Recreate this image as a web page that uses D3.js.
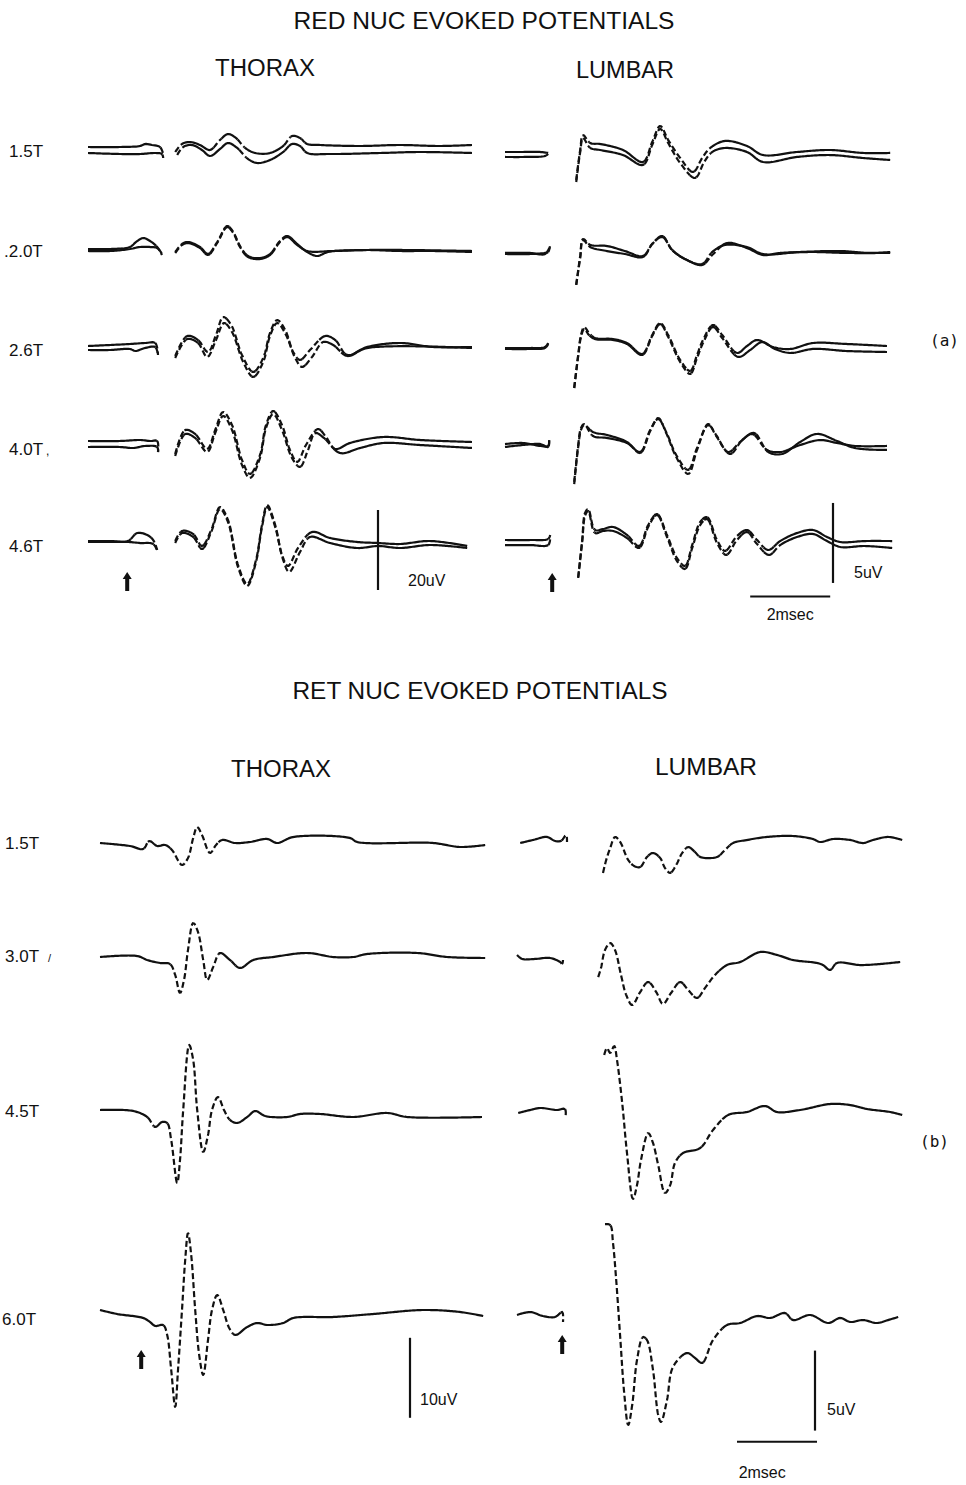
<!DOCTYPE html>
<html>
<head>
<meta charset="utf-8">
<title>Red nuc and ret nuc evoked potentials</title>
<script src="https://d3js.org/d3.v7.min.js"></script>
<style>
  body { margin: 0; background: #fff; }
  svg text { font-family: "Liberation Sans", Arial, sans-serif; fill: #111; }
  .tag { font-family: "DejaVu Sans Mono", monospace; }
</style>
</head>
<body>
<div id="chart"></div>
<script>
// ---- data: [time in msec, potential in uV] ----
// RED NUC, thorax (two superimposed sweeps per stimulus strength)
var redThx15_1pre = [[0,0.75],[0.8,0.75],[1.3,1],[1.43,1.5],[1.6,1.25],[1.8,0.75],[1.88,-1]];
var redThx15_2pre = [[0,-0.75],[0.8,-1],[1.3,-1],[1.68,-0.75],[1.85,-1],[1.88,-2]];
var redThx15_1 = [[2.18,-0.5],[2.35,1.5],[2.55,2],[2.8,1.25],[3.05,0],[3.3,2.5],[3.5,4],[3.7,3],[3.93,0.5],[4.18,-0.75],[4.55,-0.75],[4.88,1],[5.1,3.5],[5.3,3],[5.48,1.5],[5.8,1.25],[6.8,1],[7.8,1.25],[8.8,1],[9.6,1.25]];
var redThx15_2 = [[2.23,-1.25],[2.38,0.75],[2.6,1.25],[2.85,0],[3.05,-1.5],[3.3,0.25],[3.5,1.75],[3.73,0.5],[4.0,-2.25],[4.23,-3.25],[4.55,-2.5],[4.88,-0.5],[5.1,1.5],[5.3,1],[5.48,-0.75],[6.05,-1],[7.3,-0.75],[8.3,-0.5],[9.6,-0.75]];

var redThx20_1pre = [[0,0.25],[0.55,0.25],[1.05,0.75],[1.2,2],[1.38,3],[1.55,2.25],[1.73,0.75],[1.85,-1.25]];
var redThx20_2pre = [[0,-0.25],[0.55,-0.25],[1.05,0.25],[1.3,0.75],[1.55,0.75],[1.73,0.5],[1.85,-1]];
var redThx20_1 = [[2.18,-0.75],[2.35,1.25],[2.5,1.75],[2.8,0.5],[3.0,-1.25],[3.23,1.75],[3.48,5.75],[3.63,4.25],[3.8,0.75],[4.0,-1.75],[4.3,-2.25],[4.55,-1.25],[4.8,2],[4.98,3.25],[5.23,1.25],[5.48,-0.25],[6.13,-0.25],[6.98,0],[7.8,-0.25],[8.63,-0.25],[9.6,-0.5]];
var redThx20_2 = [[2.18,-0.5],[2.35,1.5],[2.5,2],[2.8,0.75],[3.0,-1],[3.23,2],[3.48,6],[3.63,4.5],[3.8,1],[4.0,-1.5],[4.3,-2],[4.55,-1],[4.8,2.25],[4.98,3.5],[5.23,1.5],[5.48,-0.5],[5.73,-1.5],[6.0,-0.5],[6.98,0],[9.6,-0.25]];

var redThx26_1pre = [[0,0.5],[0.55,0.75],[1.05,1],[1.43,1.25],[1.68,1.25],[1.75,-1.75]];
var redThx26_2pre = [[0,-0.5],[0.55,-0.5],[1.05,-0.25],[1.18,-0.75],[1.43,0],[1.68,0.25],[1.75,-1.75]];
var redThx26_1 = [[2.18,-2],[2.48,3],[2.75,2],[3.0,-1],[3.2,3.25],[3.38,7.75],[3.58,5.75],[3.85,-1.75],[4.13,-6],[4.38,-2.5],[4.55,3.75],[4.73,7],[4.93,4.5],[5.13,-1],[5.3,-3],[5.55,-0.5],[5.93,3],[6.18,2],[6.48,-1.75],[6.98,0.25],[7.8,1.25],[8.63,0.25],[9.6,0.25]];
var redThx26_2 = [[2.18,-2.5],[2.48,2.25],[2.75,1.25],[2.98,-2.25],[3.2,2],[3.4,6.25],[3.6,4],[3.88,-3.5],[4.13,-7.25],[4.38,-3.5],[4.55,3],[4.73,6.25],[4.95,3.25],[5.18,-2.5],[5.35,-4.75],[5.6,-2.25],[5.88,1.5],[6.13,0.75],[6.48,-2],[6.98,0],[9.6,0]];

var redThx40_1pre = [[0,1],[0.8,1],[1.3,1.25],[1.55,1],[1.73,1],[1.75,-1.75]];
var redThx40_2pre = [[0,-0.5],[0.8,-0.5],[1.13,-0.75],[1.43,-0.25],[1.73,-0.5],[1.75,-2]];
var redThx40_1 = [[2.18,-2.25],[2.43,3.75],[2.68,2.75],[2.98,-1],[3.18,3.75],[3.38,8.25],[3.6,5],[3.85,-3.75],[4.05,-7.25],[4.3,-2.5],[4.45,5],[4.63,8.5],[4.85,5],[5.05,-1.25],[5.23,-4.25],[5.45,0],[5.75,4],[5.95,2],[6.18,-1],[6.55,0.5],[7.38,2],[8.3,1.25],[9.6,0.75]];
var redThx40_2 = [[2.18,-2.75],[2.43,2.75],[2.68,1.75],[2.98,-1.75],[3.18,3],[3.38,7.25],[3.6,3.75],[3.85,-5],[4.05,-8.25],[4.3,-3.25],[4.45,4.25],[4.63,7.75],[4.85,3.75],[5.1,-3.25],[5.3,-5.5],[5.5,-1.25],[5.68,3],[5.9,1.75],[6.3,-2],[6.8,-0.75],[7.38,0.5],[8.3,0],[9.6,-0.75]];

var redThx46_1pre = [[0,0.5],[0.55,0.5],[1.0,0.5],[1.23,2.5],[1.48,2],[1.63,0.75],[1.73,-1.75]];
var redThx46_2pre = [[0,0.25],[0.55,0.25],[1.0,0.25],[1.3,0],[1.63,-0.25],[1.73,-2]];
var redThx46_1 = [[2.18,0.5],[2.35,3],[2.63,2.25],[2.85,-0.75],[3.08,3.25],[3.3,9],[3.5,5.75],[3.75,-5.5],[3.98,-10.25],[4.2,-4.25],[4.35,4.5],[4.48,9.5],[4.68,4.5],[4.85,-3],[5.0,-5.75],[5.25,-1.25],[5.6,2.75],[6.05,1.25],[6.73,0.25],[7.25,0],[7.8,-0.25],[8.55,0.5],[9.48,-0.75]];
var redThx46_2 = [[2.18,0],[2.35,2.5],[2.63,1.5],[2.85,-1.5],[3.08,2.75],[3.3,8.5],[3.5,5.25],[3.75,-6],[3.98,-10.75],[4.2,-4.75],[4.35,4],[4.48,9],[4.68,4],[4.88,-4.25],[5.03,-7.25],[5.3,-2.25],[5.55,1.5],[6.05,0],[6.73,-1.25],[7.25,-0.75],[7.8,-1.25],[8.55,-0.5],[9.48,-1.25]];

// RED NUC, lumbar
var redLmb15_1pre = [[0,0],[0.38,0],[0.88,0],[1.08,-0.06]];
var redLmb15_2pre = [[0,-0.31],[0.5,-0.31],[1.0,-0.25],[1.08,-0.125]];
var redLmb15_1 = [[1.78,-1.75],[1.88,0.125],[1.95,1.06],[2.13,0.56],[2.38,0.5],[2.95,0.125],[3.45,-0.625],[3.68,0.625],[3.88,1.625],[4.08,0.75],[4.38,-0.375],[4.7,-1.25],[4.93,-0.375],[5.13,0.25],[5.5,0.69],[6.05,0.375],[6.45,-0.19],[7.3,0],[8.13,0.125],[8.95,-0.06],[9.63,-0.06]];
var redLmb15_2 = [[1.78,-1.875],[1.88,0],[1.95,0.875],[2.13,0.25],[2.38,0.125],[2.95,-0.19],[3.45,-0.81],[3.68,0.44],[3.88,1.44],[4.08,0.56],[4.38,-0.69],[4.75,-1.625],[4.98,-0.625],[5.18,0],[5.5,0.25],[6.05,0],[6.45,-0.625],[7.3,-0.31],[8.13,-0.19],[8.95,-0.375],[9.63,-0.5]];

var redLmb20_1pre = [[0,-0.125],[0.63,-0.125],[1.0,-0.06],[1.08,0],[1.13,0.44]];
var redLmb20_2pre = [[0,-0.06],[0.63,-0.06],[1.0,-0.125],[1.13,0.375]];
var redLmb20_1 = [[1.78,-2.06],[1.88,-0.375],[1.95,0.75],[2.13,0.31],[2.55,0.06],[3.0,-0.125],[3.45,-0.31],[3.68,0.5],[3.93,1.0],[4.18,0.125],[4.5,-0.44],[4.93,-0.81],[5.18,-0.19],[5.55,0.56],[6.05,0.25],[6.45,-0.19],[6.88,-0.06],[7.7,0],[8.55,-0.06],[9.63,-0.06]];
var redLmb20_2 = [[1.78,-2.06],[1.88,-0.25],[1.95,0.81],[2.13,0.44],[2.55,0.375],[3.0,0.06],[3.45,-0.25],[3.68,0.5],[3.93,0.94],[4.18,0.125],[4.5,-0.44],[4.93,-0.75],[5.18,0],[5.5,0.44],[6.05,0.31],[6.45,-0.125],[7.38,0],[8.38,0.06],[9.13,-0.06],[9.63,0]];

var redLmb26_1pre = [[0,0],[0.63,0],[1.0,0.06],[1.08,0.31]];
var redLmb26_2pre = [[0,-0.06],[0.63,-0.06],[1.0,0],[1.08,0.25]];
var redLmb26_1 = [[1.73,-2.5],[1.83,-0.44],[1.9,0.81],[1.98,1.31],[2.1,0.94],[2.25,0.625],[2.7,0.56],[3.05,0.31],[3.43,-0.375],[3.68,0.81],[3.88,1.56],[4.08,0.81],[4.38,-0.75],[4.63,-1.44],[4.8,-0.44],[4.95,0.5],[5.2,1.44],[5.43,0.81],[5.8,-0.31],[6.05,0.125],[6.3,0.5],[6.7,0.06],[7.13,-0.06],[7.7,0.31],[8.55,0.25],[9.55,0.125]];
var redLmb26_2 = [[1.73,-2.5],[1.83,-0.5],[1.9,0.69],[1.98,1.19],[2.1,0.81],[2.25,0.56],[2.7,0.5],[3.05,0.25],[3.43,-0.44],[3.68,0.75],[3.88,1.5],[4.08,0.69],[4.38,-0.875],[4.63,-1.625],[4.8,-0.625],[4.95,0.31],[5.2,1.31],[5.43,0.625],[5.83,-0.56],[6.13,-0.125],[6.43,0.375],[6.75,-0.06],[7.13,-0.31],[7.7,-0.06],[8.55,-0.19],[9.55,-0.25]];

var redLmb40_1pre = [[0,0.06],[0.45,0.125],[0.88,-0.06],[1.08,-0.06],[1.1,0.44]];
var redLmb40_2pre = [[0,-0.125],[0.45,0],[0.88,0.06],[1.08,-0.125],[1.1,0.44]];
var redLmb40_1 = [[1.73,-2.31],[1.83,0],[1.9,1.06],[1.98,1.31],[2.2,0.56],[2.55,0.44],[3.05,0.125],[3.38,-0.44],[3.63,0.94],[3.83,1.625],[4.03,0.81],[4.28,-0.625],[4.58,-1.56],[4.8,-0.19],[5.08,1.25],[5.28,0.625],[5.58,-0.44],[5.88,0.19],[6.18,0.69],[6.55,-0.31],[6.88,-0.44],[7.38,0],[7.88,0.31],[8.3,0.125],[8.75,-0.06],[9.55,-0.06]];
var redLmb40_2 = [[1.73,-2.44],[1.83,-0.125],[1.9,0.94],[1.98,1.25],[2.2,0.81],[2.55,0.625],[3.05,0.19],[3.38,-0.5],[3.63,0.875],[3.83,1.69],[4.03,0.75],[4.28,-0.75],[4.58,-1.81],[4.8,-0.31],[5.08,1.31],[5.28,0.56],[5.63,-0.56],[5.93,0.31],[6.23,0.75],[6.58,-0.44],[6.93,-0.56],[7.38,0.19],[7.8,0.69],[8.3,0.25],[8.75,-0.19],[9.55,-0.31]];

var redLmb46_1pre = [[0,0.125],[0.63,0.125],[1.08,0.19],[1.13,0.44]];
var redLmb46_2pre = [[0,-0.19],[0.63,-0.19],[1.08,-0.19],[1.13,0.25]];
var redLmb46_1 = [[1.83,-2.19],[1.93,0.125],[2.0,1.81],[2.08,2.06],[2.25,0.75],[2.45,0.81],[2.7,0.94],[3.05,0.44],[3.35,-0.25],[3.58,1.06],[3.8,1.75],[4.05,0.44],[4.3,-1.0],[4.5,-1.5],[4.68,-0.19],[4.88,1.25],[5.05,1.56],[5.3,0.125],[5.5,-0.56],[5.8,0.375],[6.05,0.75],[6.3,0.125],[6.58,-0.5],[6.88,0.06],[7.3,0.56],[7.7,0.75],[8.05,0.31],[8.38,0],[9.0,0.06],[9.68,0.06]];
var redLmb46_2 = [[1.83,-2.25],[1.93,0],[2.0,1.625],[2.08,1.94],[2.25,0.56],[2.45,0.69],[2.7,0.69],[3.05,0.25],[3.35,-0.375],[3.58,0.94],[3.8,1.69],[4.05,0.31],[4.3,-1.19],[4.5,-1.69],[4.68,-0.375],[4.88,1.06],[5.05,1.44],[5.3,-0.06],[5.53,-0.81],[5.8,0.125],[6.05,0.625],[6.3,-0.125],[6.6,-0.81],[6.88,-0.19],[7.3,0.31],[7.7,0.5],[8.05,0.06],[8.38,-0.31],[9.0,-0.25],[9.68,-0.375]];

// RET NUC, thorax (single sweep)
var retThx15 = [[0,0.25],[0.75,-0.125],[1.08,-0.5],[1.23,0.5],[1.43,-0.125],[1.63,0],[1.8,-0.625],[2.05,-2.5],[2.2,-1.625],[2.33,0.875],[2.43,2.25],[2.55,1.25],[2.75,-1],[2.9,0],[3.05,0.625],[3.38,0.25],[3.75,0.375],[4.18,0.75],[4.43,0.25],[4.83,1.0],[6.25,0.875],[6.43,0.375],[8.33,0.25],[9.0,-0.25],[9.63,0]];
var retThx30 = [[0,0],[0.93,0.125],[1.18,-0.375],[1.5,-0.75],[1.75,-0.875],[1.88,-2.25],[2.0,-4.5],[2.1,-2.875],[2.2,0.875],[2.33,4.25],[2.45,3.125],[2.58,-0.375],[2.68,-2.875],[2.83,-1.25],[3.0,0.5],[3.25,-0.375],[3.5,-1.375],[3.83,-0.375],[4.33,0],[5.18,0.5],[5.83,0],[6.33,0],[6.68,0.375],[7.93,0.5],[8.68,0],[9.63,-0.125]];
var retThx45 = [[0,0],[0.83,-0.125],[1.18,-0.875],[1.38,-2.125],[1.55,-1.5],[1.68,-1.625],[1.78,-3.75],[1.93,-9.125],[2.0,-6.25],[2.08,0],[2.23,8.125],[2.33,6.25],[2.43,0],[2.58,-5.25],[2.7,-3.125],[2.8,0],[2.95,1.625],[3.1,0],[3.25,-1.25],[3.43,-1.625],[3.68,-0.875],[3.88,-0.125],[4.13,-0.75],[4.68,-0.875],[5.0,-0.5],[5.5,-0.5],[6.33,-0.875],[7.18,-0.375],[7.68,-0.875],[9.55,-0.875]];
var retThx60 = [[0,0.875],[0.43,0.375],[1.08,-0.125],[1.25,-0.625],[1.38,-1.125],[1.58,-1.0],[1.68,-2.25],[1.78,-6.625],[1.88,-11.25],[1.95,-6.625],[2.05,0.875],[2.13,7.125],[2.2,10.5],[2.28,7.75],[2.38,0.875],[2.48,-4.75],[2.58,-7.25],[2.7,-2.875],[2.8,0.875],[2.93,2.75],[3.08,0.875],[3.23,-1.375],[3.38,-2.25],[3.68,-1.25],[3.93,-0.75],[4.18,-1.0],[4.58,-0.75],[4.83,-0.125],[5.83,0],[6.83,0.375],[8.08,0.875],[9.0,0.625],[9.58,0.125]];

// RET NUC, lumbar
var retLmb15pre = [[0.13,-0.19],[0.45,0],[0.8,0.19],[1.0,-0.06],[1.15,-0.06],[1.28,0.31],[1.3,-0.125]];
var retLmb15 = [[2.2,-2.06],[2.28,-1.25],[2.38,-0.5],[2.5,0.19],[2.63,-0.125],[2.83,-1.25],[2.98,-1.625],[3.13,-1.69],[3.3,-1.06],[3.45,-0.81],[3.63,-1.125],[3.75,-1.75],[3.88,-2.06],[4.03,-1.56],[4.18,-0.81],[4.33,-0.44],[4.5,-0.75],[4.63,-1.06],[5.05,-1.06],[5.25,-0.625],[5.45,-0.19],[5.8,0],[6.3,0.19],[6.95,0.25],[7.45,0.06],[7.63,-0.125],[7.95,0.06],[8.38,0],[8.7,-0.19],[8.95,0],[9.33,0.19],[9.68,0]];
var retLmb30pre = [[0.05,0.44],[0.18,0.19],[0.5,0.19],[0.88,0.25],[1.13,0],[1.18,-0.125],[1.2,0.125]];
var retLmb30 = [[2.08,-0.94],[2.15,-0.375],[2.25,0.75],[2.38,1.19],[2.5,0.75],[2.65,-0.81],[2.78,-2.06],[2.93,-2.69],[3.13,-1.875],[3.33,-1.25],[3.53,-1.875],[3.7,-2.625],[3.9,-1.94],[4.13,-1.25],[4.33,-1.75],[4.55,-2.25],[4.75,-1.625],[5.0,-0.81],[5.3,-0.19],[5.63,0],[6.13,0.625],[6.55,0.44],[6.95,0.125],[7.55,-0.06],[7.7,-0.19],[7.88,-0.5],[8.05,-0.06],[8.63,-0.19],[9.13,-0.125],[9.63,0]];
var retLmb45pre = [[0.08,-0.19],[0.38,0],[0.63,0.125],[1.05,0],[1.25,0.06],[1.26,-0.5]];
var retLmb45 = [[2.23,3.44],[2.3,3.875],[2.38,3.56],[2.48,4.0],[2.55,3.125],[2.68,0.44],[2.8,-2.69],[2.95,-5.56],[3.05,-4.69],[3.15,-3.125],[3.33,-1.44],[3.45,-2.06],[3.58,-3.44],[3.75,-5.19],[3.88,-4.69],[4.0,-3.31],[4.2,-2.69],[4.63,-2.375],[4.95,-1.25],[5.33,-0.31],[5.8,-0.125],[6.25,0.25],[6.55,-0.125],[7.13,0],[7.88,0.375],[8.38,0.31],[8.8,0.06],[9.38,-0.125],[9.68,-0.31]];
var retLmb60pre = [[0.05,0.125],[0.38,0.31],[0.7,0.06],[1.0,0],[1.18,0.31],[1.2,-0.31]];
var retLmb60 = [[2.25,5.81],[2.38,5.75],[2.45,4.625],[2.53,2.31],[2.63,-1.25],[2.73,-4.75],[2.83,-6.75],[2.93,-5.5],[3.05,-2.69],[3.2,-1.25],[3.3,-1.44],[3.45,-3.31],[3.58,-6.125],[3.65,-6.56],[3.8,-5.19],[3.95,-3.125],[4.3,-2.25],[4.5,-2.56],[4.68,-2.875],[4.95,-1.44],[5.3,-0.5],[5.63,-0.375],[6.05,0.06],[6.38,-0.06],[6.75,0.25],[6.95,-0.19],[7.38,0.125],[7.83,-0.375],[8.13,-0.06],[8.38,-0.31],[8.7,-0.19],[9.05,-0.375],[9.33,-0.19],[9.58,0]];

// labels, stimulus times (msec) and calibration values
var redLabels = ['1.5T', '.2.0T', '2.6T', '4.0T', '4.6T'];
var retLabels = ['1.5T', '3.0T', '4.5T', '6.0T'];
var stimMs = [0.98, 1.18, 1.03, 1.18];      // red thorax, red lumbar, ret thorax, ret lumbar
var calUv = [20, 5, 10, 5];                 // red thorax, red lumbar, ret thorax, ret lumbar
var calMs = 2;

// ---- layout ----
var width = 966, height = 1485;
var svg = d3.select('#chart').append('svg')
    .attr('width', width)
    .attr('height', height);

function timeScale(x0) {
    return d3.scaleLinear().domain([0, 10]).range([x0, x0 + 400]);
}
function uvScale(base, pxPerUv) {
    return d3.scaleLinear().domain([0, 1]).range([base, base - pxPerUv]);
}

var xRedThx = timeScale(88), xRedLmb = timeScale(505);
var xRetThx = timeScale(100), xRetLmb = timeScale(515);
var redThxBase = [150, 250, 348, 445, 543], redLmbBase = [152, 252, 348, 445, 542];
var retThxBase = [845, 957, 1110, 1317], retLmbBase = [840, 962, 1110, 1317];

var redThx = [
    [[redThx15_1pre, redThx15_1], [redThx15_2pre, redThx15_2]],
    [[redThx20_1pre, redThx20_1], [redThx20_2pre, redThx20_2]],
    [[redThx26_1pre, redThx26_1], [redThx26_2pre, redThx26_2]],
    [[redThx40_1pre, redThx40_1], [redThx40_2pre, redThx40_2]],
    [[redThx46_1pre, redThx46_1], [redThx46_2pre, redThx46_2]]
];
var redLmb = [
    [[redLmb15_1pre, redLmb15_1], [redLmb15_2pre, redLmb15_2]],
    [[redLmb20_1pre, redLmb20_1], [redLmb20_2pre, redLmb20_2]],
    [[redLmb26_1pre, redLmb26_1], [redLmb26_2pre, redLmb26_2]],
    [[redLmb40_1pre, redLmb40_1], [redLmb40_2pre, redLmb40_2]],
    [[redLmb46_1pre, redLmb46_1], [redLmb46_2pre, redLmb46_2]]
];
var retThx = [[[retThx15]], [[retThx30]], [[retThx45]], [[retThx60]]];
var retLmb = [
    [[retLmb15pre, retLmb15]], [[retLmb30pre, retLmb30]],
    [[retLmb45pre, retLmb45]], [[retLmb60pre, retLmb60]]
];

var traceG = svg.append('g');

// draw one sweep segment; fast (steep) parts come out broken, like the pen trace
function drawSegment(pts, x, y) {
    var d = d3.line()
        .x(function(p) { return x(p[0]); })
        .y(function(p) { return y(p[1]); })
        .curve(d3.curveCatmullRom.alpha(0.5))(pts);
    var tmp = traceG.append('path').attr('d', d).attr('fill', 'none');
    var node = tmp.node(), L = node.getTotalLength();
    var s = [];
    for (var l = 0; l < L; l += 1.5) s.push(node.getPointAtLength(l));
    s.push(node.getPointAtLength(L));
    tmp.remove();

    var steep = [];
    for (var i = 1; i < s.length; i++) {
        steep.push(Math.abs(s[i].y - s[i - 1].y) > 0.95 * Math.abs(s[i].x - s[i - 1].x));
    }
    // smooth the flag so tiny flips do not fragment the line
    var sm = steep.map(function(v, i) {
        var c = 0, n = 0;
        for (var k = Math.max(0, i - 2); k <= Math.min(steep.length - 1, i + 2); k++) { c += steep[k] ? 1 : 0; n++; }
        return c * 2 > n;
    });

    var groups = [], cur = null;
    for (var j = 1; j < s.length; j++) {
        if (!cur || cur.steep !== sm[j - 1]) {
            cur = { steep: sm[j - 1], pts: [[s[j - 1].x, s[j - 1].y]] };
            groups.push(cur);
        }
        cur.pts.push([s[j].x, s[j].y]);
    }
    groups.forEach(function(gr) {
        traceG.append('path')
            .attr('d', d3.line()(gr.pts))
            .attr('fill', 'none')
            .attr('stroke', '#111')
            .attr('stroke-width', 2.2)
            .attr('stroke-linejoin', 'round')
            .attr('stroke-dasharray', gr.steep ? '6,3' : null);
    });
}

function drawColumn(rows, x, bases, pxPerUv) {
    rows.forEach(function(sweeps, r) {
        var y = uvScale(bases[r], pxPerUv);
        sweeps.forEach(function(segs) {
            segs.forEach(function(seg) { drawSegment(seg, x, y); });
        });
    });
}

drawColumn(redThx, xRedThx, redThxBase, 4);
drawColumn(redLmb, xRedLmb, redLmbBase, 16);
drawColumn(retThx, xRetThx, retThxBase, 8);
drawColumn(retLmb, xRetLmb, retLmbBase, 16);

// ---- text ----
function addText(txt, x, y, size, anchor, len) {
    var t = svg.append('text')
        .attr('x', x).attr('y', y)
        .attr('font-size', size)
        .attr('text-anchor', anchor || 'start')
        .text(txt);
    if (len) t.attr('textLength', len).attr('lengthAdjust', 'spacingAndGlyphs');
    return t;
}

addText('RED  NUC  EVOKED  POTENTIALS', 484, 29, 23, 'middle', 381);
addText('THORAX', 265, 76, 23, 'middle', 100);
addText('LUMBAR', 625, 78, 23, 'middle', 98);
addText('RET  NUC  EVOKED  POTENTIALS', 480, 699, 23, 'middle', 375);
addText('THORAX', 281, 777, 23, 'middle', 100);
addText('LUMBAR', 706, 775, 23, 'middle', 102);

var redLabelY = [157, 257, 356, 455, 552];
redLabels.forEach(function(l, i) {
    addText(l, l.charAt(0) === '.' ? 4 : 9, redLabelY[i], 17, 'start');
});
addText(',', 46, 455, 12, 'start');
var retLabelY = [849, 962, 1117, 1325];
retLabels.forEach(function(l, i) {
    addText(l, i === 3 ? 2 : 5, retLabelY[i], 17, 'start');
});
addText('/', 48, 962, 11, 'start');

svg.append('text').attr('class', 'tag').attr('x', 930).attr('y', 346).attr('font-size', 16).text('(a)');
svg.append('text').attr('class', 'tag').attr('x', 920).attr('y', 1147).attr('font-size', 16).text('(b)');

// ---- stimulus arrows ----
function arrow(cx, top) {
    var p = d3.path();
    p.moveTo(cx - 2, top + 19);
    p.lineTo(cx - 2, top + 7);
    p.lineTo(cx - 4.5, top + 7);
    p.lineTo(cx, top);
    p.lineTo(cx + 4.5, top + 7);
    p.lineTo(cx + 2, top + 7);
    p.lineTo(cx + 2, top + 19);
    p.closePath();
    svg.append('path').attr('d', p.toString()).attr('fill', '#111');
}
arrow(xRedThx(stimMs[0]), redThxBase[4] + 29);
arrow(xRedLmb(stimMs[1]), redLmbBase[4] + 31);
arrow(xRetThx(stimMs[2]), retThxBase[3] + 33);
arrow(xRetLmb(stimMs[3]), retLmbBase[3] + 18);

// ---- calibration bars ----
function vbar(x, y, t, v0, uv) {
    svg.append('line')
        .attr('x1', x(t)).attr('x2', x(t))
        .attr('y1', y(v0)).attr('y2', y(v0 - uv))
        .attr('stroke', '#111').attr('stroke-width', 2.2);
}
var yRed4 = uvScale(redThxBase[4], 4), yRedL4 = uvScale(redLmbBase[4], 16);
var yRet3 = uvScale(retThxBase[3], 8), yRetL3 = uvScale(retLmbBase[3], 16);

vbar(xRedThx, yRed4, 7.25, 8.25, calUv[0]);
vbar(xRedLmb, yRedL4, 8.2, 2.44, calUv[1]);
vbar(xRetThx, yRet3, 7.75, -2.6, calUv[2]);
vbar(xRetLmb, yRetL3, 7.5, -2.1, calUv[3]);

function hbar(x, y, t0, v) {
    svg.append('line')
        .attr('x1', x(t0)).attr('x2', x(t0 + calMs))
        .attr('y1', y(v)).attr('y2', y(v))
        .attr('stroke', '#111').attr('stroke-width', 2);
}
hbar(xRedLmb, yRedL4, 6.13, -3.4);
hbar(xRetLmb, yRetL3, 5.55, -7.8);

addText(calUv[0] + 'uV', xRedThx(7.25) + 30, 586, 16, 'start');
addText(calUv[1] + 'uV', xRedLmb(8.2) + 21, 578, 16, 'start');
addText(calMs + 'msec', xRedLmb(7.13), 620, 16, 'middle');
addText(calUv[2] + 'uV', xRetThx(7.75) + 10, 1405, 16, 'start');
addText(calUv[3] + 'uV', xRetLmb(7.5) + 12, 1415, 16, 'start');
addText(calMs + 'msec', xRetLmb(6.18), 1478, 16, 'middle');
</script>
</body>
</html>
